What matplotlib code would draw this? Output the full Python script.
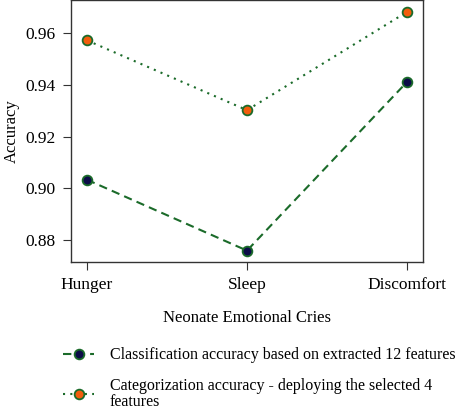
import matplotlib
matplotlib.use("Agg")
import matplotlib.pyplot as plt

categories = ["Hunger", "Sleep", "Discomfort"]
acc_12 = [0.9033, 0.8759, 0.9411]
acc_4 = [0.9572, 0.9302, 0.9682]
label_12 = "Classification accuracy based on extracted 12 features"
label_4 = "Categorization accuracy - deploying the selected 4\nfeatures"

plt.rcParams['font.family'] = ['Liberation Serif', 'DejaVu Serif']

green = "#1b6b2a"
fig = plt.figure(figsize=(4.65, 4.11), dpi=100)
ax = fig.add_axes([71/465, 1-262/411, (423-71)/465, 262/411])
x = list(range(len(categories)))
ax.plot(x, acc_12, ls=(0, (4, 2.5)), color=green, lw=1.5, marker='o', ms=7,
        mfc="#0c0c48", mec=green, mew=1.3, label=label_12)
ax.plot(x, acc_4, ls=(0, (1, 2.5)), color=green, lw=1.5, marker='o', ms=7,
        mfc="#f25c0c", mec=green, mew=1.3, label=label_4)
ax.set_xlim(-0.1, 2.1)
ax.set_ylim(0.8715, 0.9728)
ax.set_yticks([0.88, 0.90, 0.92, 0.94, 0.96])
ax.set_yticklabels(["0.88", "0.90", "0.92", "0.94", "0.96"])
ax.set_xticks(x)
ax.set_xticklabels(categories)
ax.tick_params(labelsize=12.5, color="#333333", length=6, pad=5)
for s in ax.spines.values():
    s.set_color("#333333")
    s.set_linewidth(1.0)
ax.set_ylabel("Accuracy", fontsize=12, labelpad=4)
ax.set_xlabel("Neonate Emotional Cries", fontsize=12, labelpad=12)
leg = fig.legend(loc="upper left", bbox_to_anchor=(57/465, 1-341/411), frameon=False,
                 fontsize=11.5, handlelength=1.9, handletextpad=1.0, labelspacing=0.9,
                 borderaxespad=0)
for t in leg.get_texts():
    t.set_linespacing(1.05)
fig.savefig("out.png", dpi=100)
